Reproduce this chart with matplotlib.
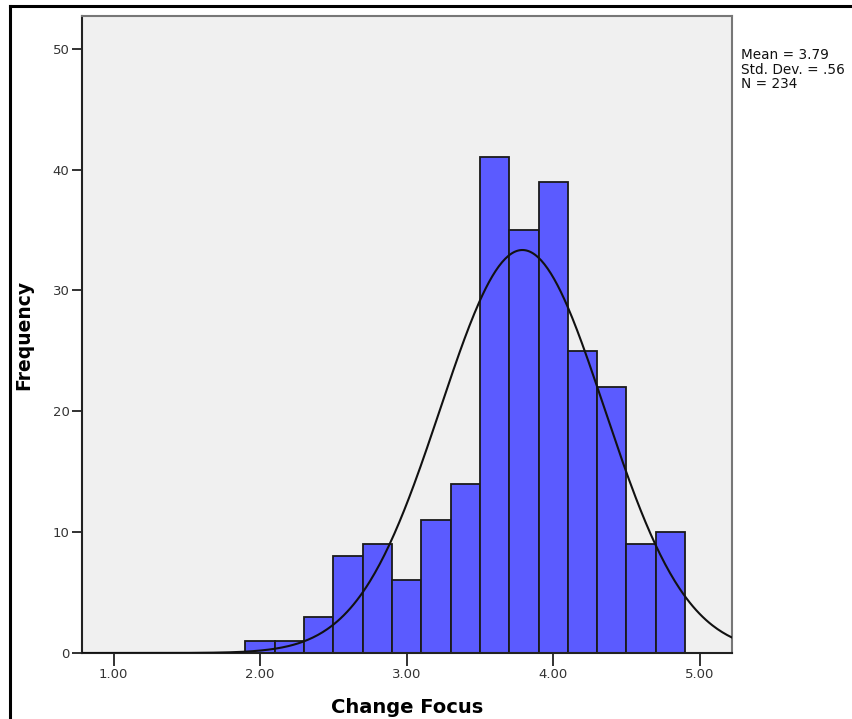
import numpy as np
import matplotlib
matplotlib.use('Agg')
from matplotlib import pyplot as plt
from matplotlib.lines import Line2D

plt.rcParams['font.family'] = ['DejaVu Sans']

# histogram of Change Focus scores, bins of width 0.2 from 1.9
bin_edges = [1.9, 2.1, 2.3, 2.5, 2.7, 2.9, 3.1, 3.3, 3.5, 3.7, 3.9, 4.1, 4.3, 4.5, 4.7, 4.9]
counts = [1, 1, 3, 8, 9, 6, 11, 14, 41, 35, 39, 25, 22, 9, 10]
mean = 3.79
std_dev = 0.56
n_total = 234
x_ticks = [1.0, 2.0, 3.0, 4.0, 5.0]
x_tick_labels = ['1.00', '2.00', '3.00', '4.00', '5.00']
y_ticks = [0, 10, 20, 30, 40, 50]

fig = plt.figure(figsize=(8.53, 7.19), dpi=100)
ax = fig.add_axes([82 / 853, 66 / 719, 650 / 853, 637 / 719])
ax.set_facecolor('#f0f0f0')

widths = np.diff(bin_edges)
ax.bar(bin_edges[:-1], counts, width=widths, align='edge',
       color='#5b5bff', edgecolor='#1a1a1a', linewidth=1.3, zorder=2)

# normal curve scaled to the histogram
bw = widths[0]
xs = np.linspace(0.78, 5.22, 400)
ys = n_total * bw / (std_dev * np.sqrt(2 * np.pi)) * np.exp(-0.5 * ((xs - mean) / std_dev) ** 2)
ax.plot(xs, ys, color='#111111', linewidth=1.5, zorder=3)

ax.set_xlim(0.785, 5.22)
ax.set_ylim(0, 52.7)
ax.set_xticks(x_ticks)
ax.set_xticklabels(x_tick_labels)
ax.set_yticks(y_ticks)
ax.tick_params(axis='x', direction='out', length=9, width=1.3, color='#222222',
               labelsize=9.5, labelcolor='#333333', pad=2)
ax.tick_params(axis='y', direction='out', length=7, width=1.3, color='#222222',
               labelsize=9.5, labelcolor='#333333', pad=2)

for side in ['left', 'bottom']:
    ax.spines[side].set_color('#222222')
    ax.spines[side].set_linewidth(1.5)
for side in ['top', 'right']:
    ax.spines[side].set_color('#777777')
    ax.spines[side].set_linewidth(1.5)

ax.set_xlabel('Change Focus', fontsize=14, fontweight='bold', labelpad=12)
ax.set_ylabel('Frequency', fontsize=13.5, fontweight='bold', labelpad=14)

fig.text(741 / 853, 1 - 48 / 719,
         'Mean = %.2f\nStd. Dev. = %s\nN = %d' % (mean, ('%.2f' % std_dev)[1:], n_total),
         fontsize=9.8, color='#111111', va='top', ha='left', linespacing=1.05)

# outer frame on the left and top
fig.add_artist(Line2D([10 / 853, 10 / 853], [0, 1 - 6 / 719], color='black', linewidth=2.2,
                      transform=fig.transFigure))
fig.add_artist(Line2D([10 / 853, 1], [1 - 6 / 719, 1 - 6 / 719], color='black', linewidth=2.2,
                      transform=fig.transFigure))

fig.savefig('out.png', dpi=100)
